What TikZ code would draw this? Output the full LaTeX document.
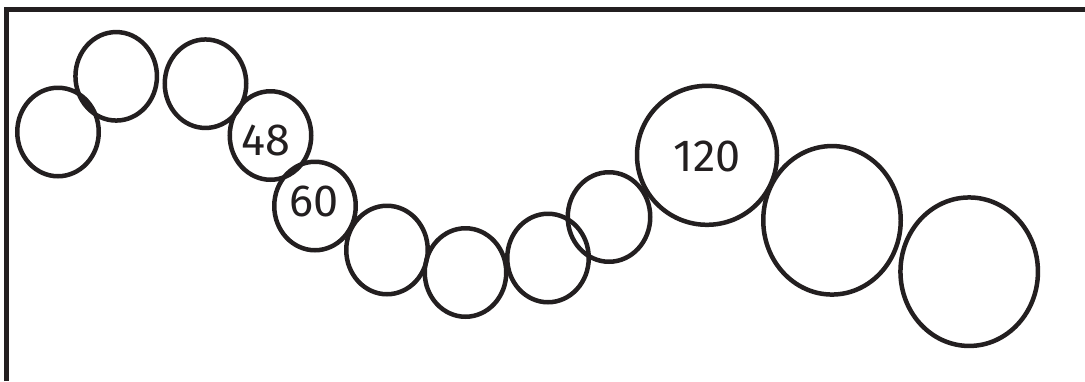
\documentclass[tikz,border=0pt]{standalone}
\usepackage{fontspec}
\setmainfont{Fira Sans}
\usetikzlibrary{shapes.geometric}
\definecolor{ink}{HTML}{231F20}
\begin{document}
\begin{tikzpicture}[x=1pt,y=-1pt,
  ring/.style={draw=ink,line width=4.5pt,ellipse,inner sep=0pt},
  small/.style={ring,minimum width=81.5pt,minimum height=88.5pt},
  big/.style={ring,minimum width=140pt,minimum height=139pt},
  tall/.style={ring,minimum width=137.5pt,minimum height=148.5pt},
  num/.style={text=ink,inner sep=0pt,font=\fontsize{45}{45}\selectfont}]
\useasboundingbox (0,0) rectangle (1085,381);
\draw[ink,line width=5pt] (6.8,381) -- (6.8,9.5) -- (1085,9.5);
\node[small] (c1) at (58,132) {};
\node[small] (c2) at (116.2,76.3) {};
\node[small] (c3) at (205.5,83.7) {};
\node[small] (c4) at (270.5,135.5) {};
\node[small] (c5) at (315,206) {};
\node[small] (c6) at (387,250) {};
\node[small] (c7) at (465.5,272.5) {};
\node[small] (c8) at (548,258) {};
\node[small,minimum width=82.5pt,minimum height=89.5pt] (c9) at (609,217) {};
\node[big] (c10) at (707,155.3) {};
\node[tall] (c11) at (832,220.3) {};
\node[tall] (c12) at (969.2,271.7) {};
\node[num] (t48) at (266,140.5) {48};
\node[num] (t60) at (314,201) {60};
\node[num] (t120) at (707,156) {120};
\end{tikzpicture}
\end{document}
